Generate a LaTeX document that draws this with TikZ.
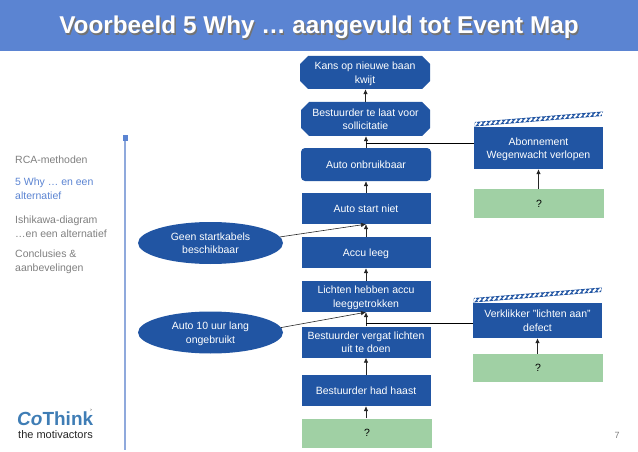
\documentclass[tikz,border=0pt]{standalone}
\usepackage{fontspec}
\setmainfont{Liberation Sans}
\usepackage{xcolor}
\usetikzlibrary{calc, shapes.geometric, positioning, arrows.meta}
\definecolor{vakblauw}{HTML}{2155A3}
\definecolor{bandblauw}{HTML}{5B84D2}
\definecolor{lijnblauw}{HTML}{8FA9DC}
\definecolor{vakgroen}{HTML}{A0D0A4}
\definecolor{menugrijs}{HTML}{7F7F7F}
\definecolor{logoblauw}{HTML}{3F7DB5}
\tikzset{
    vak/.style={fill=vakblauw, text=white, minimum width=129, minimum height=31, inner sep=0, align=center, text depth=-1pt, font=\fontsize{10.5}{13.5}\selectfont},
    achthoek/.style={vak, fill=none, path picture={
        \fill[vakblauw] ($(path picture bounding box.north west)+(8,0)$) -- ($(path picture bounding box.north east)+(-8,0)$)
            -- ($(path picture bounding box.north east)+(0,8)$) -- ($(path picture bounding box.south east)+(0,-8)$)
            -- ($(path picture bounding box.south east)+(-8,0)$) -- ($(path picture bounding box.south west)+(8,0)$)
            -- ($(path picture bounding box.south west)+(0,-8)$) -- ($(path picture bounding box.north west)+(0,8)$) -- cycle;
    }},
    afgerond/.style={vak, rounded corners=4},
    vraag/.style={fill=vakgroen, text=black, minimum width=130, minimum height=29, inner sep=0, font=\fontsize{10.5}{13}\selectfont},
    ovaal/.style={vak, ellipse, minimum width=145, minimum height=42},
    menu/.style={text=menugrijs, anchor=north west, inner sep=0, align=left, font=\fontsize{10.5}{14}\selectfont},
    pijl/.style={-{Latex[length=5,width=4.5]}, draw=black!85, line width=0.6},
    lijn/.style={draw=black, line width=0.8}
}
\newcommand{\strook}[2]{%
    \begin{scope}
        \clip (#1,#2) -- ++(128,-10.5) -- ++(1,-4.5) -- ++(-128,10.5) -- cycle;
        \fill[vakblauw] (#1,#2) -- ++(128,-10.5) -- ++(1,-4.5) -- ++(-128,10.5) -- cycle;
        \foreach \s in {0,...,25} {
            \draw[white, line width=2] ($(#1,#2)+(5*\s,-0.41*\s-0.8)$) -- ++(3,-3);
        }
    \end{scope}
}

\begin{document}
\begin{tikzpicture}[x=1pt, y=-1pt]
    \useasboundingbox (0,0) rectangle (638,452);
    % Titelband
    \fill[bandblauw] (0,0) rectangle (638,51);
    \node[text=black!55, font=\fontsize{24.3}{28}\selectfont\bfseries] (titelschaduw) at (320.3,28.8) {Voorbeeld 5 Why … aangevuld tot Event Map};
    \node[text=white, font=\fontsize{24.3}{28}\selectfont\bfseries] (titel) at (319,27.5) {Voorbeeld 5 Why … aangevuld tot Event Map};

    % Menu links
    \draw[lijnblauw, line width=1.5] (125,138) -- (125,450);
    \fill[bandblauw] (122.5,135.5) rectangle (128,141);
    \node[menu] (rca) at (15,156) {RCA-methoden};
    \node[menu, text=bandblauw] (why) at (15,177.5) {5 Why … en een\\alternatief};
    \node[menu] (ishikawa) at (15,216) {Ishikawa-diagram\\…en een alternatief};
    \node[menu] (conclusies) at (15,250) {Conclusies \&\\aanbevelingen};

    % Logo
    \node[anchor=west, inner sep=0, text=logoblauw, font=\fontsize{19}{21}\selectfont\bfseries] (logo) at (17,419) {\textit{Co}Think};
    \node[text=black!70, inner sep=0, font=\fontsize{4}{4}\selectfont] (logoteken) at (91,410) {>};
    \node[anchor=west, inner sep=0, text=black!85, font=\fontsize{11}{12}\selectfont] (motto) at (18,435) {the motivactors};
    \node[text=menugrijs, font=\fontsize{9}{11}\selectfont] (paginanr) at (617,435) {7};

    % Hoofdketen
    \node[achthoek, minimum height=33, minimum width=130] (baan) at (365,72.5) {Kans op nieuwe baan\\kwijt};
    \node[achthoek, minimum height=34] (laat) at (365.5,119) {Bestuurder te laat voor\\sollicitatie};
    \node[afgerond, minimum height=33, minimum width=130] (onbruikbaar) at (366,164.5) {Auto onbruikbaar};
    \node[vak] (startniet) at (366,208.5) {Auto start niet};
    \node[vak] (accu) at (366,252.5) {Accu leeg};
    \node[vak] (lichten) at (366,296.5) {Lichten hebben accu\\leeggetrokken};
    \node[vak] (vergat) at (366,342) {Bestuurder vergat lichten\\uit te doen};
    \node[vak] (haast) at (366,390.5) {Bestuurder had haast};
    \node[vraag] (vraagA) at (367,433) {?};

    % Zijtakken rechts
    \node[vak, minimum height=42] (abonnement) at (538.5,148) {Abonnement\\Wegenwacht verlopen};
    \node[vraag] (vraagB) at (539,203.5) {?};
    \node[vak, minimum height=35] (verklikker) at (537.5,320.5) {Verklikker "lichten aan"\\defect};
    \node[vraag, minimum height=28] (vraagC) at (538,368) {?};
    \strook{474}{126.5}
    \strook{473}{302.5}

    % Ovalen links
    \node[ovaal] (kabels) at (210.5,243) {Geen startkabels\\beschikbaar};
    \node[ovaal] (ongebruikt) at (210.5,332.5) {Auto 10 uur lang\\ongebruikt};

    % Verbindingen
    \coordinate (abonLinks) at (474,143.3);
    \coordinate (verklLinks) at (473,323);
    \draw[pijl] (laat.north) -- (baan.south -| laat.north);
    \draw[pijl] (onbruikbaar.north) -- (onbruikbaar.north |- laat.south);
    \draw[pijl] (startniet.north) -- (onbruikbaar.south);
    \draw[pijl] (accu.north) -- (startniet.south);
    \draw[pijl] (lichten.north) -- (accu.south);
    \draw[pijl] (vergat.north) -- (lichten.south);
    \draw[pijl] (haast.north) -- (vergat.south);
    \draw[pijl] (vraagA.north -| haast.north) -- (haast.south);
    \draw[pijl] (vraagB.north -| abonnement.south) -- (abonnement.south);
    \draw[pijl] (vraagC.north -| verklikker.south) -- (verklikker.south);
    \draw[pijl] (kabels.5) -- (startniet.south);
    \draw[pijl] (ongebruikt.4) -- (lichten.south);
    \draw[lijn] (abonLinks) -- (abonLinks -| onbruikbaar.north);
    \draw[lijn] (verklLinks) -- (verklLinks -| lichten.south);
\end{tikzpicture}
\end{document}
